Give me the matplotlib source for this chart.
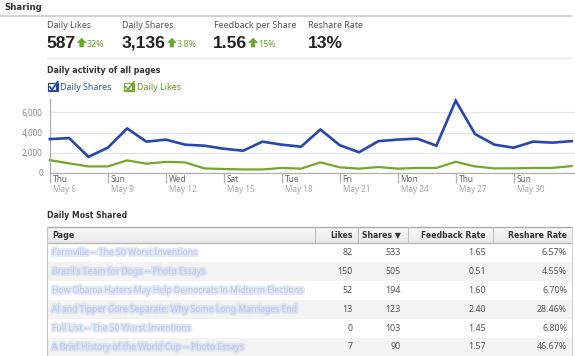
import matplotlib
matplotlib.use("Agg")
import matplotlib.pyplot as plt
from matplotlib import patheffects as pe
from matplotlib.patches import Rectangle, Polygon
import matplotlib.transforms as mtrans

# ---------------- data ----------------
days = list(range(28))
daily_shares = [3350, 3450, 1600, 2500, 4400, 3100, 3300, 2800, 2700, 2400, 2200, 3100, 2800,
                2600, 4300, 2750, 2050, 3150, 3300, 3400, 2700, 7150, 3850, 2800, 2500, 3100, 3000, 3150]
daily_likes = [1280, 950, 650, 650, 1250, 920, 1100, 1050, 450, 400, 350, 350, 500,
               430, 1050, 560, 430, 590, 430, 500, 500, 1110, 650, 460, 460, 500, 500, 690]
xtick_pos = [0, 3, 6, 9, 12, 15, 18, 21, 24]
xtick_day = ["Thu", "Sun", "Wed", "Sat", "Tue", "Fri", "Mon", "Thu", "Sun"]
xtick_date = ["May 6", "May 9", "May 12", "May 15", "May 18", "May 21", "May 24", "May 27", "May 30"]
ytick_vals = [0, 2000, 4000, 6000]
ytick_labels = ["0", "2,000", "4,000", "6,000"]

stat_labels = ["Daily Likes", "Daily Shares", "Feedback per Share", "Reshare Rate"]
stat_values = ["587", "3,136", "1.56", "13%"]
stat_changes = ["32%", "3.8%", "15%", None]

table_cols = ["Page", "Likes", "Shares \u25BC", "Feedback Rate", "Reshare Rate"]
page_titles = ["Farmville -- The 50 Worst Inventions",
               "Brazil's Team for Dogs -- Photo Essays",
               "How Obama Haters May Help Democrats in Midterm Elections",
               "Al and Tipper Gore Separate: Why Some Long Marriages End",
               "Full List -- The 50 Worst Inventions",
               "A Brief History of the World Cup -- Photo Essays"]
likes_col = [82, 150, 52, 13, 0, 7]
shares_col = [533, 505, 194, 123, 103, 90]
feedback_col = [1.65, 0.51, 1.60, 2.40, 1.45, 1.57]
reshare_col = ["6.57%", "4.55%", "6.70%", "28.46%", "6.80%", "46.67%"]

# ---------------- styling ----------------
W, H = 575, 356
BLUE = "#2747b0"
GREEN = "#75a82a"
ARROW_GREEN = "#6aaa2a"
SANS = ["Noto Sans", "DejaVu Sans"]
BOLD = ["DejaVu Sans"]
BIG = ["Liberation Sans", "DejaVu Sans"]

fig = plt.figure(figsize=(W / 100, H / 100), dpi=100)
fig.patch.set_facecolor("white")

# overlay in pixel coordinates (y downwards)
ov = fig.add_axes([0, 0, 1, 1], zorder=0)
ov.set_xlim(0, W)
ov.set_ylim(H, 0)
ov.axis("off")

# ---- header ----
ov.text(4.5, 7, "Sharing", fontsize=6.2, fontweight="bold", color="#333333",
        family=BOLD, va="center", ha="left")
ov.plot([0, 572], [15.5, 15.5], color="#d0d0d0", lw=1.4, solid_capstyle="butt")

# ---- stats ----
stat_x = [47, 122.5, 213.5, 308.5]
fig.canvas.draw()
renderer = fig.canvas.get_renderer()
for sx, lab, val, chg in zip(stat_x, stat_labels, stat_values, stat_changes):
    ov.text(sx, 25, lab, fontsize=6.4, color="#555555", family=SANS, va="center", ha="left")
    t = ov.text(sx - 0.5, 47.5, val, fontsize=12.6, fontweight="bold", color="#222222",
                family=BIG, va="baseline", ha="left")
    if chg is not None:
        bb = t.get_window_extent(renderer)
        xr = bb.x1 / fig.dpi * 100  # pixels
        cx = xr + 6
        arrow = Polygon([(cx - 4.2, 42.6), (cx, 38.2), (cx + 4.2, 42.6), (cx + 1.8, 42.6),
                         (cx + 1.8, 47), (cx - 1.8, 47), (cx - 1.8, 42.6)],
                        closed=True, facecolor=ARROW_GREEN, edgecolor="#5c9a22", lw=0.4)
        ov.add_patch(arrow)
        ov.text(cx + 5, 44.3, chg, fontsize=6.4, color="#6aa530", family=SANS,
                va="center", ha="left")
ov.plot([47, 571], [57.8, 57.8], color="#e8e8e8", lw=1.0)

# ---- chart title and legend ----
ov.text(47, 70.5, "Daily activity of all pages", fontsize=5.7, fontweight="bold",
        color="#333333", family=BOLD, va="center", ha="left")


def checkbox(x, y, color):
    ov.add_patch(Rectangle((x, y), 10, 8.5, facecolor=color, edgecolor=color, lw=0.8))
    ov.add_patch(Rectangle((x + 1.5, y + 1.5), 7, 5.5, facecolor="white", edgecolor="none"))
    ov.plot([x + 2, x + 4.5, x + 10.5], [y + 4.2, y + 7, y - 0.8], color=color, lw=1.3,
            solid_capstyle="round")


checkbox(47.5, 82.5, BLUE)
ov.text(60, 87, "Daily Shares", fontsize=6.4, color="#3553a8", family=SANS, va="center", ha="left")
checkbox(123.5, 82.5, GREEN)
ov.text(137, 87, "Daily Likes", fontsize=6.4, color="#669a22", family=SANS, va="center", ha="left")

# ---- line chart ----
x0_px, xend_px = 49.8, 571.7
px_per_day = (xend_px - x0_px) / 27
y0_px, y6000_px = 173.0, 112.3
top_px = 99.0
ax = fig.add_axes([x0_px / W, (H - y0_px) / H, (W - x0_px) / W, (y0_px - top_px) / H], zorder=2)
ax.set_xlim(0, (W - x0_px) / px_per_day)
ax.set_ylim(0, 6000 * (y0_px - top_px) / (y0_px - y6000_px))
ax.patch.set_alpha(0)
ax.plot(days, daily_likes, color=GREEN, lw=1.6, solid_joinstyle="miter", zorder=3, clip_on=False)
ax.plot(days, daily_shares, color=BLUE, lw=1.9, solid_joinstyle="miter", zorder=4, clip_on=False)
for s in ["top", "right"]:
    ax.spines[s].set_visible(False)
for s in ["left", "bottom"]:
    ax.spines[s].set_color("#b0b0b0")
    ax.spines[s].set_linewidth(0.9)
ax.set_yticks(ytick_vals)
ax.set_yticklabels(ytick_labels, fontsize=5.9, color="#8a8a8a", family=SANS)
ax.tick_params(axis="y", length=0, pad=5)
ax.yaxis.grid(True, color="#e6e6e6", lw=0.9)
ax.set_axisbelow(True)
ax.set_xticks(xtick_pos)
ax.set_xticklabels([""] * len(xtick_pos))
ax.tick_params(axis="x", length=7, width=0.9, color="#b0b0b0", direction="out")
trans = mtrans.blended_transform_factory(ax.transData, ax.transAxes)
for xp, d1, d2 in zip(xtick_pos, xtick_day, xtick_date):
    ax.text(xp + 3 / px_per_day, -6.3 / (y0_px - top_px), d1, transform=trans, fontsize=6.0,
            color="#666666", family=SANS, va="center", ha="left")
    ax.text(xp + 3 / px_per_day, -16 / (y0_px - top_px), d2, transform=trans, fontsize=5.9,
            color="#a8a8a8", family=SANS, va="center", ha="left")

# ---- table ----
ov.text(47, 215, "Daily Most Shared", fontsize=5.6, fontweight="bold", color="#333333",
        family=BOLD, va="center", ha="left")
tbl_left, tbl_right = 47, 572
hdr_top, hdr_bot = 227, 243
row_h = 18.9
col_edges = [47, 315, 358, 408, 493, 572]
col_right = [None, 352.5, 400.5, 486, 567]

# header gradient
n_g = 8
for i in range(n_g):
    shade = 0.975 - 0.06 * i / (n_g - 1)
    ov.add_patch(Rectangle((tbl_left, hdr_top + (hdr_bot - hdr_top) * i / n_g), tbl_right - tbl_left,
                           (hdr_bot - hdr_top) / n_g + 0.2, facecolor=(shade, shade, shade),
                           edgecolor="none", zorder=1))
# rows shading
for i in range(len(page_titles)):
    top = hdr_bot + i * row_h
    if i % 2 == 1:
        ov.add_patch(Rectangle((tbl_left, top), tbl_right - tbl_left, row_h,
                               facecolor="#f3f3f3", edgecolor="none", zorder=1))
# borders
ov.plot([tbl_left, tbl_right], [hdr_top, hdr_top], color="#a8a8a8", lw=0.9, zorder=3)
ov.plot([tbl_left, tbl_right], [hdr_bot, hdr_bot], color="#b8b8b8", lw=1.0, zorder=3)
ov.plot([tbl_left, tbl_left], [hdr_top, H], color="#c8c8c8", lw=0.8, zorder=3)
ov.plot([tbl_right, tbl_right], [hdr_top, H], color="#d4d4d4", lw=0.8, zorder=3)
for ce in col_edges[1:-1]:
    ov.plot([ce, ce], [hdr_top, hdr_bot], color="#c0c0c0", lw=0.8, zorder=3)

hdr_y = (hdr_top + hdr_bot) / 2
ov.text(52, hdr_y, table_cols[0], fontsize=5.8, fontweight="bold", color="#333333",
        family=BOLD, va="center", ha="left", zorder=4)
for c in range(1, 5):
    ov.text(col_right[c], hdr_y, table_cols[c], fontsize=5.6, fontweight="bold", color="#333333",
            family=BOLD, va="center", ha="right", zorder=4)

blur = [pe.Stroke(linewidth=3.0, foreground="#ccd6f1", alpha=0.55), pe.Normal()]
for i, (pt, lk, sh, fb, rs) in enumerate(zip(page_titles, likes_col, shares_col, feedback_col, reshare_col)):
    yc = hdr_bot + i * row_h + row_h / 2
    ov.text(52, yc, pt, fontsize=6.2, color="#b3c1ea", family=SANS, va="center", ha="left",
            alpha=0.7, path_effects=blur, zorder=4)
    ov.text(col_right[1], yc, f"{lk}", fontsize=6.4, color="#555555", family=SANS,
            va="center", ha="right", zorder=4)
    ov.text(col_right[2], yc, f"{sh}", fontsize=6.4, color="#555555", family=SANS,
            va="center", ha="right", zorder=4)
    ov.text(col_right[3], yc, f"{fb:.2f}", fontsize=6.4, color="#555555", family=SANS,
            va="center", ha="right", zorder=4)
    ov.text(col_right[4], yc, rs, fontsize=6.4, color="#555555", family=SANS,
            va="center", ha="right", zorder=4)

fig.savefig("out.png", dpi=100, facecolor="white")
